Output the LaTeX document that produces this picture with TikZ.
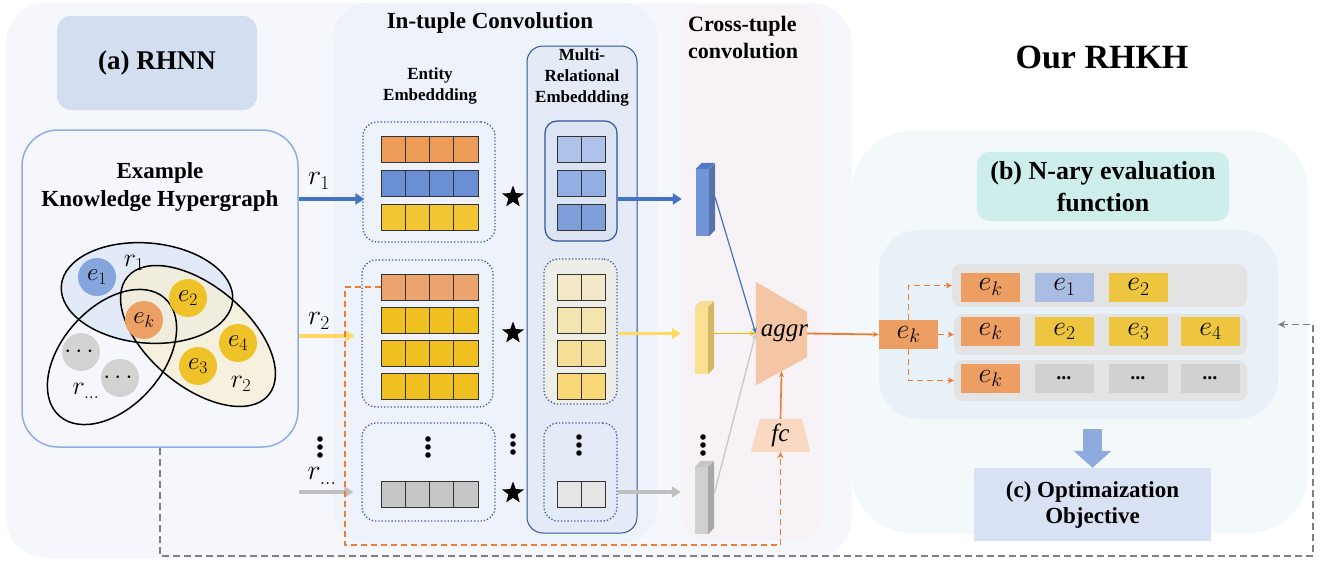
\RequirePackage{fix-cm}
\documentclass[tikz,border=0pt]{standalone}
\usepackage{amsmath, amssymb}
\usepackage{fontspec}
\setmainfont{Liberation Serif}
\usepackage{tikz}
\usetikzlibrary{arrows.meta, shapes.geometric}
\usepackage{xcolor}
\definecolor{panelgray}{RGB}{245, 247, 252}
\definecolor{panelmint}{RGB}{243, 249, 250}
\definecolor{rhnnfill}{RGB}{211, 222, 241}
\definecolor{kgline}{RGB}{143, 174, 227}
\definecolor{intuplebg}{RGB}{238, 242, 250}
\definecolor{crossbg}{RGB}{247, 242, 246}
\definecolor{relpanel}{RGB}{228, 234, 246}
\definecolor{reldark}{RGB}{47, 85, 151}
\definecolor{dotblue}{RGB}{58, 93, 168}
\definecolor{cellorange}{RGB}{237, 155, 88}
\definecolor{cellorangeb}{RGB}{236, 164, 110}
\definecolor{cellblue}{RGB}{106, 143, 213}
\definecolor{cellyellow}{RGB}{242, 197, 52}
\definecolor{cellyellowb}{RGB}{239, 192, 32}
\definecolor{cellgray}{RGB}{198, 198, 198}
\definecolor{relblueA}{RGB}{175, 195, 234}
\definecolor{relblueB}{RGB}{147, 174, 227}
\definecolor{relblueC}{RGB}{127, 159, 219}
\definecolor{relyelA}{RGB}{243, 232, 200}
\definecolor{relyelB}{RGB}{244, 228, 176}
\definecolor{relyelC}{RGB}{245, 222, 152}
\definecolor{relyelD}{RGB}{248, 216, 119}
\definecolor{relbeige}{RGB}{238, 238, 232}
\definecolor{relboxblue}{RGB}{220, 228, 244}
\definecolor{relgray}{RGB}{229, 229, 229}
\definecolor{arrowblue}{RGB}{68, 114, 196}
\definecolor{arrowyellow}{RGB}{255, 217, 102}
\definecolor{arrowgray}{RGB}{191, 191, 191}
\definecolor{lineyellow}{RGB}{242, 183, 5}
\definecolor{linegray}{RGB}{200, 200, 200}
\definecolor{aggrfill}{RGB}{245, 198, 165}
\definecolor{fcfill}{RGB}{249, 217, 194}
\definecolor{flowor}{RGB}{237, 125, 49}
\definecolor{naryfill}{RGB}{205, 238, 234}
\definecolor{evalbg}{RGB}{232, 240, 248}
\definecolor{rowgray}{RGB}{227, 227, 227}
\definecolor{ekor}{RGB}{237, 158, 98}
\definecolor{eoneblue}{RGB}{169, 188, 226}
\definecolor{eyel}{RGB}{238, 197, 63}
\definecolor{edots}{RGB}{209, 209, 209}
\definecolor{optfill}{RGB}{217, 225, 244}
\definecolor{downblue}{RGB}{143, 170, 220}
\definecolor{dashgray}{RGB}{127, 127, 127}
\definecolor{ronefill}{RGB}{226, 233, 247}
\definecolor{rtwofill}{RGB}{247, 239, 214}
\definecolor{circblue}{RGB}{133, 165, 221}
\definecolor{circor}{RGB}{237, 160, 99}
\definecolor{circyel}{RGB}{240, 194, 42}
\definecolor{circgray}{RGB}{211, 211, 211}
\newcommand{\fsz}[2]{\fontsize{#1}{#2}\selectfont}
% cells of an embedding row: x, y top, count, cell width, colour
\newcommand{\cellrow}[5]{%
  \foreach \c in {1,...,#3}
    \filldraw[draw=black!80, line width=0.9pt, fill=#5] ({#1+(\c-1)*#4},#2) rectangle ++(#4,26);}
\newcommand{\vdotsat}[2]{%
  \foreach \d in {0,1,2} \fill ({#1},{#2+\d*8}) circle (2.8pt);}

\begin{document}
\begin{tikzpicture}[x=1pt, y=-1pt, >=Stealth,
  titletext/.style={align=center, inner sep=0pt},
  entbox/.style={draw=dotblue, line width=1.3pt, dotted, rounded corners=14pt},
  flowarrow/.style={line width=3.5pt, -{Triangle[length=9pt,width=11pt]}},
  thinflow/.style={line width=1.3pt, -{Stealth[length=6pt,width=5pt]}},
  entcirc/.style={circle, minimum size=38pt, inner sep=0pt, font=\fsz{25}{25}},
  evcell/.style={minimum width=59pt, minimum height=29pt, inner sep=0pt, font=\fsz{28}{28}},
  evrow/.style={fill=rowgray, rounded corners=9pt, minimum width=293pt, minimum height=41pt},
  ordash/.style={draw=flowor, line width=1.6pt, dash pattern=on 6pt off 4pt},
  bar3d/.style={minimum width=13pt, minimum height=67pt, inner sep=0pt},
  starmark/.style={star, star points=5, star point ratio=2.4, fill=black, minimum size=23pt, inner sep=0pt}]

  \useasboundingbox (0,0) rectangle (1326,562);

  % ---------- Background panels ----------
  \fill[panelgray, rounded corners=40pt] (6,3) rectangle (852,558);
  \fill[panelmint, rounded corners=60pt] (852,131) rectangle (1308,533);
  \fill[intuplebg, rounded corners=35pt] (333,3) rectangle (657,543);
  \fill[crossbg, rounded corners=25pt] (681,5) rectangle (823,540);
  \filldraw[fill=relpanel, draw=reldark, line width=1pt, rounded corners=16pt] (527,46) rectangle (637,533);

  % ---------- (a) RHNN ----------
  \node[titletext, font=\bfseries\fsz{27}{30}, fill=rhnnfill, rounded corners=14pt, minimum width=200pt, minimum height=94pt] (rhnn) at (157,63) {(a) RHNN};
  \node[draw=kgline, line width=1.5pt, rounded corners=36pt, minimum width=276pt, minimum height=317pt] (kg) at (160,288.5) {};
  \node[titletext, font=\bfseries\fsz{23}{28}] (kgtitle) at (160,187) {Example\\Knowledge Hypergraph};

  % hyperedges
  \fill[ronefill, opacity=0.9, rotate around={-5:(147,293)}] (147,293) ellipse [x radius=86pt, y radius=50pt];
  \fill[rtwofill, opacity=0.75, rotate around={-40:(198,336)}] (198,336) ellipse [x radius=92pt, y radius=50pt];
  \draw[line width=1.5pt, rotate around={-5:(147,293)}] (147,293) ellipse [x radius=86pt, y radius=50pt];
  \draw[line width=1.5pt, rotate around={-40:(198,336)}] (198,336) ellipse [x radius=92pt, y radius=50pt];
  \draw[line width=1.5pt, rotate around={48:(112,357)}] (112,357) ellipse [x radius=79pt, y radius=50pt];
  % entities
  \node[entcirc, fill=circblue] (ce1) at (97,277) {$e_1$};
  \node[entcirc, fill=circor] (cek) at (144,320) {$e_k$};
  \node[entcirc, fill=circyel] (ce2) at (188,298) {$e_2$};
  \node[entcirc, fill=circyel] (ce4) at (238,343) {$e_4$};
  \node[entcirc, fill=circyel] (ce3) at (198,366) {$e_3$};
  \node[entcirc, fill=circgray] (cdots1) at (81,352) {$\cdots$};
  \node[entcirc, fill=circgray] (cdots2) at (120,378) {$\cdots$};
  \node[font=\fsz{26}{26}] (lr1) at (134,263) {$r_1$};
  \node[font=\fsz{26}{26}] (lr2) at (241,384) {$r_2$};
  \node[font=\fsz{26}{26}] (lrd) at (86,391) {$r_{\ldots}$};

  % ---------- In-tuple convolution ----------
  \node[titletext, font=\bfseries\fsz{23}{26}] (intitle) at (490,23) {In-tuple Convolution};
  \node[titletext, font=\bfseries\fsz{17}{21}] (enttitle) at (430,85.5) {Entity\\Embeddding};
  \node[titletext, font=\bfseries\fsz{17}{21}] (reltitle) at (582,77) {Multi-\\Relational\\Embeddding};

  \coordinate (lvlone) at (0,199);
  \coordinate (lvltwo) at (0,336);
  \coordinate (lvlthree) at (0,492);

  % entity embeddings
  \node[entbox, minimum width=132pt, minimum height=120pt] (eb1) at (429,182) {};
  \node[entbox, minimum width=131pt, minimum height=147pt] (eb2) at (427.5,333.5) {};
  \node[entbox, minimum width=133pt, minimum height=98pt] (eb3) at (428.5,472) {};
  \cellrow{381}{136}{4}{24.25}{cellorange}
  \cellrow{381}{170}{4}{24.25}{cellblue}
  \cellrow{381}{204}{4}{24.25}{cellyellow}
  \cellrow{381}{274}{4}{24.25}{cellorangeb}
  \cellrow{381}{307}{4}{24.25}{cellyellowb}
  \cellrow{381}{340}{4}{24.25}{cellyellowb}
  \cellrow{381}{373}{4}{24.25}{cellyellowb}
  \cellrow{381}{481}{4}{24.25}{cellgray}
  \vdotsat{428}{439}

  % relational embeddings
  \node[draw=reldark, fill=relboxblue, line width=1.2pt, rounded corners=12pt, minimum width=72pt, minimum height=120pt] (rb1) at (581,181) {};
  \node[entbox, fill=relbeige, minimum width=73pt, minimum height=145pt] (rb2) at (580.5,331.5) {};
  \node[entbox, minimum width=73pt, minimum height=98pt] (rb3) at (580.5,472) {};
  \cellrow{557}{136}{2}{24}{relblueA}
  \cellrow{557}{170}{2}{24}{relblueB}
  \cellrow{557}{204}{2}{24}{relblueC}
  \cellrow{557}{274}{2}{24}{relyelA}
  \cellrow{557}{307}{2}{24}{relyelB}
  \cellrow{557}{340}{2}{24}{relyelC}
  \cellrow{557}{373}{2}{24}{relyelD}
  \cellrow{557}{481}{2}{24}{relgray}
  \vdotsat{579}{437}

  % convolution marks
  \node[starmark] (star1) at (513,197) {};
  \node[starmark] (star2) at (513,333) {};
  \node[starmark] (star3) at (513,493) {};
  \vdotsat{513}{436}

  % relation inputs
  \draw[flowarrow, arrowblue] (kg.east |- lvlone) -- ([xshift=2pt]eb1.west |- lvlone);
  \draw[flowarrow, arrowyellow] (kg.east |- lvltwo) -- ([xshift=-7pt]eb2.west |- lvltwo);
  \draw[flowarrow, arrowgray] (kg.east |- lvlthree) -- ([xshift=-8pt]eb3.west |- lvlthree);
  \node[font=\fsz{28}{28}] (ar1) at (319,181) {$r_1$};
  \node[font=\fsz{28}{28}] (ar2) at (319,321) {$r_2$};
  \node[font=\fsz{28}{28}] (ard) at (322,476) {$r_{\ldots}$};
  \vdotsat{320}{439}

  % ---------- Cross-tuple convolution ----------
  \node[titletext, font=\bfseries\fsz{22}{27}, align=left, anchor=west] (crosstitle) at (688,38) {Cross-tuple\\convolution};

  \node[bar3d, fill=cellblue!95!white] (bar1) at (702.5,202.5) {};
  \fill[arrowblue!70!cellblue] (bar1.north west) -- ++(6,-6) -- ++(13,0) -- (bar1.north east) -- cycle;
  \fill[cellblue!80!black] (bar1.north east) -- ++(6,-6) -- ++(0,67) -- (bar1.south east) -- cycle;
  \node[bar3d, fill=relyelD!80!white] (bar2) at (701.5,340.5) {};
  \fill[relyelC] (bar2.north west) -- ++(6,-6) -- ++(13,0) -- (bar2.north east) -- cycle;
  \fill[relyelD!85!black] (bar2.north east) -- ++(6,-6) -- ++(0,67) -- (bar2.south east) -- cycle;
  \node[bar3d, fill=edots] (bar3) at (701.5,500.5) {};
  \fill[cellgray] (bar3.north west) -- ++(6,-6) -- ++(13,0) -- (bar3.north east) -- cycle;
  \fill[cellgray!85!black] (bar3.north east) -- ++(6,-6) -- ++(0,67) -- (bar3.south east) -- cycle;
  \vdotsat{703}{437}

  \draw[flowarrow, arrowblue] (rb1.east |- lvlone) -- ([xshift=-14pt]bar1.west |- lvlone);
  \draw[flowarrow, arrowyellow] ([yshift=7pt]rb2.east |- bar2) -- ([xshift=-14pt,yshift=7pt]bar2.west);
  \draw[flowarrow, arrowgray] (rb3.east |- lvlthree) -- ([xshift=-14pt]bar3.west |- lvlthree);

  % aggregation
  \node[minimum width=51pt, minimum height=103pt, inner sep=0pt] (aggr) at (781.5,333.5) {};
  \fill[aggrfill] (aggr.north west) -- ([yshift=-30pt]aggr.north east) -- ([yshift=28pt]aggr.south east) -- (aggr.south west) -- cycle;
  \node[font=\itshape\fsz{25}{25}] (aggrtext) at ([xshift=3pt]aggr.center) {aggr};
  \node[minimum width=59pt, minimum height=33pt, inner sep=0pt] (fc) at (780.5,435.5) {};
  \fill[fcfill] (fc.south west) -- (fc.south east) -- ([xshift=-8pt]fc.north east) -- ([xshift=9pt]fc.north west) -- cycle;
  \node[font=\itshape\fsz{25}{25}] (fctext) at (fc) {fc};

  \draw[thinflow, arrowblue, line width=1.2pt] ([xshift=6pt,yshift=5pt]bar1.east) -- (aggr.west);
  \draw[thinflow, lineyellow] ([xshift=6pt,yshift=7pt]bar2.east) -- (aggr.west);
  \draw[thinflow, linegray] ([xshift=6pt,yshift=7pt]bar3.east) -- (aggr.west);
  \draw[thinflow, flowor, line width=1.6pt] (fc.north) -- ([yshift=14pt]aggr.south);

  % ---------- Our RHKH ----------
  \node[titletext, font=\bfseries\fsz{34}{38}] (rhkh) at (1102,57) {Our RHKH};
  \node[titletext, font=\bfseries\fsz{26}{32}, fill=naryfill, rounded corners=12pt, minimum width=252pt, minimum height=69pt] (nary) at (1103,186.5) {(b) N-ary evaluation\\function};
  \node[fill=evalbg, rounded corners=40pt, minimum width=399pt, minimum height=189pt] (evalp) at (1078.5,324.5) {};

  \node[evrow, minimum width=295pt, minimum height=43pt] (row1) at (1099.5,285.5) {};
  \node[evrow] (row2) at (1100.5,334.5) {};
  \node[evrow] (row3) at (1100.5,380.5) {};
  \node[evcell, fill=ekor] (r1a) at (990.5,287) {$e_k$};
  \node[evcell, fill=eoneblue] (r1b) at (1064.5,287) {$e_1$};
  \node[evcell, fill=eyel] (r1c) at (1138.5,287) {$e_2$};
  \node[evcell, fill=ekor] (r2a) at (990.5,331.5) {$e_k$};
  \node[evcell, fill=eyel] (r2b) at (1064.5,331.5) {$e_2$};
  \node[evcell, fill=eyel] (r2c) at (1138.5,331.5) {$e_3$};
  \node[evcell, fill=eyel] (r2d) at (1210.5,331.5) {$e_4$};
  \node[evcell, fill=ekor] (r3a) at (990.5,378.5) {$e_k$};
  \node[evcell, fill=edots, font=\bfseries\fsz{20}{20}] (r3b) at (1064.5,378.5) {\textit{...}};
  \node[evcell, fill=edots, font=\bfseries\fsz{20}{20}] (r3c) at (1138.5,378.5) {\textit{...}};
  \node[evcell, fill=edots, font=\bfseries\fsz{20}{20}] (r3d) at (1210.5,378.5) {\textit{...}};

  \node[evcell, fill=ekor] (eksrc) at (908.5,334.5) {$e_k$};
  \draw[thinflow, flowor, line width=1.8pt] (aggr.east) -- (eksrc.west);
  \draw[ordash, -{Stealth[length=6pt,width=6pt]}] (eksrc.north) |- (row1.west);
  \draw[ordash, -{Stealth[length=6pt,width=6pt]}] (eksrc.east) -- (row2.west);
  \draw[ordash, -{Stealth[length=6pt,width=6pt]}] (eksrc.south) |- (row3.west);

  % ---------- (c) objective ----------
  \node[titletext, font=\bfseries\fsz{23}{26}, fill=optfill, minimum width=237pt, minimum height=73pt] (opt) at (1092.5,504.5) {(c) Optimaization\\Objective};
  \coordinate (downtop) at (0,429);
  \draw[downblue, line width=19pt, -{Triangle[length=17pt,width=37pt]}] (opt.north |- downtop) -- (opt.north);

  % ---------- feedback loops ----------
  \coordinate (ekrow) at (381,287);
  \coordinate (orcorner) at (345,545);
  \draw[ordash, -{Stealth[length=6pt,width=6pt]}] (ekrow) -| (orcorner) -| (fc.south);
  \coordinate (graycorner) at (1313,556);
  \draw[dashgray, line width=1.8pt, dash pattern=on 7pt off 4pt, -{Stealth[length=7pt,width=7pt]}] (kg.south) |- (graycorner) |- (evalp.east);

\end{tikzpicture}
\end{document}
